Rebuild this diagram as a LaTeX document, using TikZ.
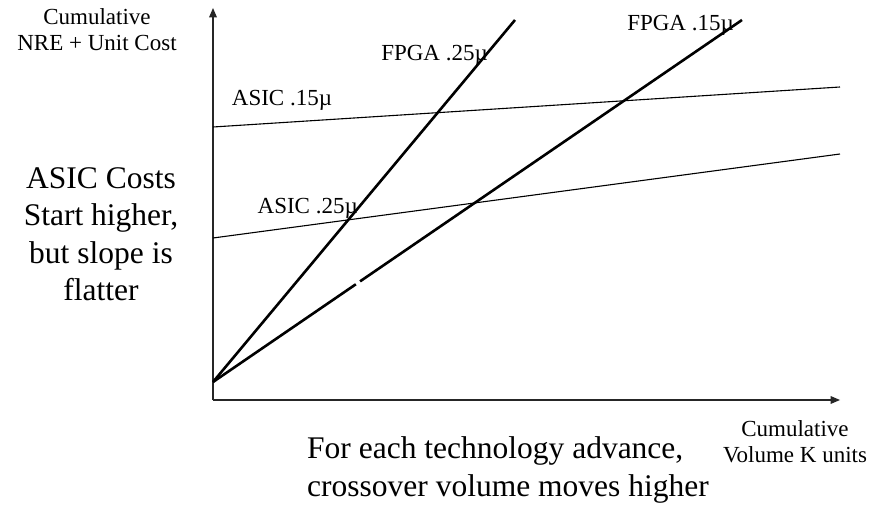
\documentclass[tikz,border=0pt]{standalone}
\usepackage{fontspec}
\setmainfont{Liberation Serif}
\usepackage{tikz}
\usetikzlibrary{arrows,positioning,calc}

\begin{document}
\begin{tikzpicture}[
			x=1pt,y=1pt,
			axis/.style={line width=1.2pt,black!85,-triangle 45},
			fpga/.style={line width=2.6pt},
			asic/.style={line width=1.1pt},
			small/.style={font=\fontsize{23}{26}\selectfont},
			big/.style={font=\fontsize{31.5}{37.5}\selectfont}
			]
			\useasboundingbox (0,0) rectangle (870,504);
			\def\ox{213}
			\def\oy{104}

			% axes
			\coordinate (O) at (\ox,\oy);
			\coordinate (ytop) at (\ox,496);
			\coordinate (xend) at (840,\oy);
			\draw[axis] (O) -- (ytop);
			\draw[axis] (O) -- (xend);

			% cost lines
			\coordinate (F0) at (\ox,122);
			\coordinate (F25) at (515,484);
			\coordinate (F15) at (742,484);
			\coordinate (A15a) at (\ox,377);
			\coordinate (A15b) at (840,417);
			\coordinate (A25a) at (\ox,266);
			\coordinate (A25b) at (840,350);
			\draw[fpga] (F0) -- (F25);
			\draw[fpga] (F0) -- ($(F0)!0.27!(F15)$);
			\draw[fpga] ($(F0)!0.278!(F15)$) -- (F15);
			\draw[asic] (A15a) -- (A15b);
			\draw[asic] (A25a) -- (A25b);

			% labels
			\node[small,anchor=east,inner sep=0pt] (lf25) at (488,449) {FPGA .25µ};
			\node[small,anchor=east,inner sep=0pt] (lf15) at (734,479) {FPGA .15µ};
			\node[small] (la15) at (282,404) {ASIC .15µ};
			\node[small,anchor=east,inner sep=0pt] (la25) at (358,296) {ASIC .25µ};

			\node[small,align=center] (ylab) at (97,474) {Cumulative\\NRE + Unit Cost};
			\node[small,align=center] (xlab) at (795,62) {Cumulative\\Volume K units};

			\node[big,align=center] (note) at (101,270) {ASIC Costs\\Start higher,\\but slope is\\flatter};
			\node[big,align=left,anchor=west,inner sep=0pt] (cross) at (307,34) {For each technology advance,\\crossover volume moves higher};
\end{tikzpicture}
\end{document}
